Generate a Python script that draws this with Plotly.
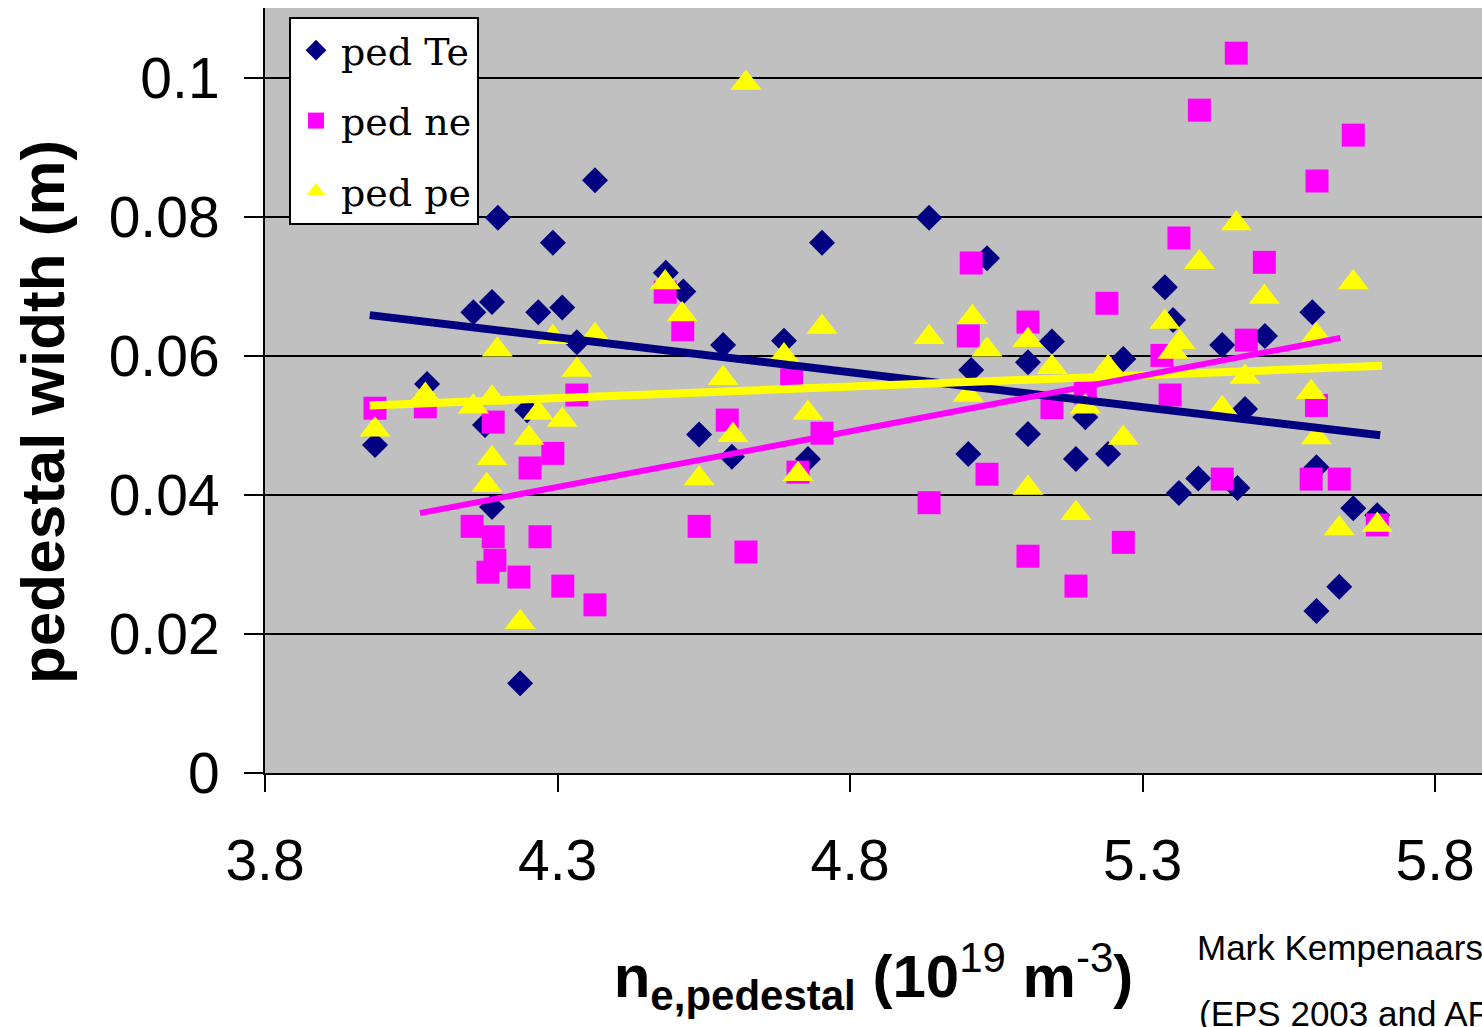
import plotly.graph_objects as go

# Pedestal width vs pedestal density, three pedestal profiles
te_x = [3.988, 4.077, 4.156, 4.188, 4.198, 4.176, 4.188, 4.236, 4.248, 4.267,
        4.292, 4.308, 4.333, 4.364, 4.485, 4.515, 4.542, 4.583, 4.598, 4.687,
        4.728, 4.752, 4.935, 5.002, 5.007, 5.034, 5.104, 5.104, 5.145, 5.186,
        5.202, 5.241, 5.267, 5.338, 5.352, 5.362, 5.395, 5.436, 5.462, 5.475,
        5.509, 5.590, 5.597, 5.597, 5.636, 5.660, 5.701]
te_y = [0.0472, 0.0560, 0.0663, 0.0678, 0.0799, 0.0501, 0.0383, 0.0129, 0.0522, 0.0663,
        0.0763, 0.0670, 0.0620, 0.0853, 0.0720, 0.0693, 0.0487, 0.0616, 0.0455, 0.0622,
        0.0452, 0.0763, 0.0799, 0.0459, 0.0580, 0.0741, 0.0591, 0.0488, 0.0621, 0.0452,
        0.0512, 0.0459, 0.0596, 0.0699, 0.0652, 0.0403, 0.0424, 0.0616, 0.0410, 0.0524,
        0.0629, 0.0663, 0.0440, 0.0233, 0.0268, 0.0381, 0.0371]

ne_x = [3.988, 4.074, 4.154, 4.181, 4.190, 4.190, 4.193, 4.234, 4.253, 4.270,
        4.292, 4.309, 4.333, 4.364, 4.484, 4.514, 4.542, 4.590, 4.622, 4.700,
        4.711, 4.752, 4.935, 5.002, 5.007, 5.034, 5.104, 5.104, 5.145, 5.186,
        5.202, 5.239, 5.267, 5.333, 5.347, 5.362, 5.397, 5.436, 5.460, 5.477,
        5.508, 5.588, 5.597, 5.598, 5.636, 5.660, 5.701]
ne_y = [0.0525, 0.0527, 0.0355, 0.0289, 0.0505, 0.0340, 0.0306, 0.0282, 0.0439, 0.0340,
        0.0460, 0.0269, 0.0544, 0.0242, 0.0692, 0.0638, 0.0355, 0.0508, 0.0318, 0.0566,
        0.0433, 0.0489, 0.0389, 0.0629, 0.0734, 0.0430, 0.0649, 0.0312, 0.0526, 0.0269,
        0.0547, 0.0676, 0.0332, 0.0601, 0.0544, 0.0770, 0.0954, 0.0423, 0.1036, 0.0623,
        0.0735, 0.0423, 0.0529, 0.0852, 0.0423, 0.0918, 0.0357]

pe_x = [3.988, 4.074, 4.156, 4.179, 4.188, 4.188, 4.197, 4.236, 4.251, 4.267,
        4.292, 4.308, 4.333, 4.364, 4.484, 4.513, 4.542, 4.583, 4.600, 4.622,
        4.687, 4.711, 4.728, 4.752, 4.935, 5.002, 5.009, 5.034, 5.104, 5.104,
        5.145, 5.186, 5.202, 5.241, 5.267, 5.338, 5.352, 5.364, 5.397, 5.436,
        5.460, 5.475, 5.508, 5.588, 5.597, 5.597, 5.636, 5.660, 5.701]
pe_y = [0.0494, 0.0544, 0.0527, 0.0414, 0.0540, 0.0453, 0.0609, 0.0217, 0.0482, 0.0518,
        0.0627, 0.0508, 0.0580, 0.0630, 0.0706, 0.0660, 0.0424, 0.0568, 0.0486, 0.0993,
        0.0601, 0.0430, 0.0518, 0.0642, 0.0627, 0.0544, 0.0656, 0.0609, 0.0623, 0.0410,
        0.0584, 0.0374, 0.0527, 0.0584, 0.0482, 0.0649, 0.0606, 0.0620, 0.0735, 0.0525,
        0.0791, 0.0570, 0.0685, 0.0548, 0.0630, 0.0483, 0.0352, 0.0706, 0.0357]

# Linear trend lines (end points of each fit)
te_fit_x = [3.979, 5.706]
te_fit_y = [0.0659, 0.0486]
pe_fit_x = [3.979, 5.709]
pe_fit_y = [0.0529, 0.0586]
ne_fit_x = [4.065, 5.638]
ne_fit_y = [0.0374, 0.0626]

NAVY = "#000080"
MAGENTA = "#FF00FF"
YELLOW = "#FFFF00"

fig = go.Figure()

fig.add_trace(go.Scatter(x=te_x, y=te_y, mode="markers", name="ped Te",
                         legendgroup="te",
                         marker=dict(symbol="diamond", size=20, color=NAVY,
                                     line=dict(width=0))))
fig.add_trace(go.Scatter(x=ne_x, y=ne_y, mode="markers", name="ped ne",
                         legendgroup="ne",
                         marker=dict(symbol="square", size=23, color=MAGENTA,
                                     line=dict(width=0))))
fig.add_trace(go.Scatter(x=pe_x, y=pe_y, mode="markers", name="ped pe",
                         legendgroup="pe",
                         marker=dict(symbol="triangle-up", size=27, color=YELLOW,
                                     line=dict(width=0))))

fig.add_trace(go.Scatter(x=te_fit_x, y=te_fit_y, mode="lines", showlegend=False,
                         line=dict(color=NAVY, width=8)))
fig.add_trace(go.Scatter(x=pe_fit_x, y=pe_fit_y, mode="lines", showlegend=False,
                         line=dict(color=YELLOW, width=8)))
fig.add_trace(go.Scatter(x=ne_fit_x, y=ne_fit_y, mode="lines", showlegend=False,
                         line=dict(color=MAGENTA, width=6)))

tick_font = dict(family="Liberation Sans", size=57, color="black")

fig.update_xaxes(
    range=[3.8, 5.88], tick0=3.8, dtick=0.5, showgrid=False, zeroline=False,
    showline=True, linecolor="black", linewidth=2,
    ticks="outside", ticklen=17, tickwidth=2, tickcolor="black",
    tickfont=tick_font, ticklabelstandoff=20,
    title=dict(
        text=("n<sub>e,pedestal</sub> (10<sup><span style='font-weight:normal'>19</span></sup>"
              " m<sup><span style='font-weight:normal'>-3</span></sup>)"),
        font=dict(family="Liberation Sans", size=60, color="black", weight="bold"),
        standoff=64),
)
fig.update_yaxes(
    range=[0, 0.1101], tick0=0, dtick=0.02, showgrid=True, gridcolor="black",
    gridwidth=2, zeroline=False,
    showline=True, linecolor="black", linewidth=2,
    ticks="outside", ticklen=19, tickwidth=2, tickcolor="black",
    tickfont=tick_font, ticklabelstandoff=13,
)

# Rotated y-axis title, placed in paper coordinates
fig.add_annotation(text="<b>pedestal width (m)</b>", textangle=-90,
                   xref="paper", yref="paper",
                   x=(42 - 265) / 1217, y=(773 - 412) / 765,
                   xanchor="center", yanchor="middle", showarrow=False,
                   font=dict(family="Liberation Sans", size=62, color="black"))

credit_font = dict(family="Liberation Sans", size=35, color="black")
fig.add_annotation(text="Mark Kempenaars", xref="paper", yref="paper",
                   x=(1195 - 265) / 1217, y=(773 - 947) / 765,
                   xanchor="left", yanchor="middle", showarrow=False, font=credit_font)
fig.add_annotation(text="(EPS 2003 and APS 2003)", xref="paper", yref="paper",
                   x=(1197 - 265) / 1217, y=(773 - 1013) / 765,
                   xanchor="left", yanchor="middle", showarrow=False, font=credit_font)

fig.update_layout(
    width=1482, height=1027,
    margin=dict(l=265, r=0, t=8, b=254, autoexpand=False),
    paper_bgcolor="white", plot_bgcolor="#C0C0C0",
    showlegend=True,
    legend=dict(x=(289 - 265) / 1217, y=(773 - 17) / 765, xanchor="left", yanchor="top",
                bgcolor="white", bordercolor="black", borderwidth=2,
                font=dict(family="DejaVu Serif", size=38, color="black"),
                tracegroupgap=18, itemwidth=40, itemsizing="trace"),
)

fig.write_html("out.html")
